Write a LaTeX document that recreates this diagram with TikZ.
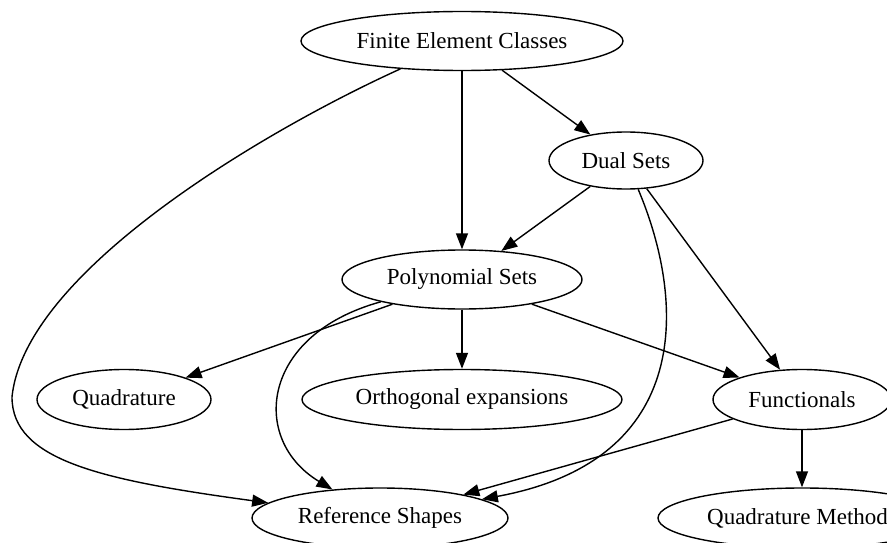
\documentclass[tikz,border=0pt]{standalone}
\usepackage{fontspec}
\setmainfont{Liberation Serif}
\usetikzlibrary{shapes.geometric,arrows.meta}
\begin{document}
\begin{tikzpicture}[x=1pt,y=-1pt,
  nd/.style={draw, ellipse, line width=1.4pt, inner sep=0pt, minimum height=59pt,
    font=\fontsize{23}{27}\selectfont},
  edge/.style={line width=1.4pt, -{Triangle[length=16pt,width=12pt]}}]
\clip (0,0) rectangle (887,543);
\node[nd, minimum width=322pt] (fec) at (462,41) {Finite Element Classes};
\node[nd, minimum width=154pt, minimum height=57pt] (ds) at (626,160.5) {Dual Sets};
\node[nd, minimum width=240pt] (ps) at (462,279.5) {Polynomial Sets};
\node[nd, minimum width=174pt, minimum height=60pt] (quad) at (124,399.5) {Quadrature};
\node[nd, minimum width=320pt, minimum height=60pt] (orth) at (462,399.5) {Orthogonal expansions};
\node[nd, minimum width=178pt, minimum height=60pt] (func) at (802,399.5) {Functionals};
\node[nd, minimum width=256pt, minimum height=60pt] (ref) at (380,518) {Reference Shapes};
\node[nd, minimum width=288pt, minimum height=60pt] (qm) at (802,518) {Quadrature Methods};

\draw[edge] (fec) -- (ds);
\draw[edge] (fec) -- (ps);
\draw[edge] (fec) .. controls (270,128) and (25,270) .. (12,397)
                  .. controls (12,460) and (100,480) .. (ref);
\draw[edge] (ds) -- (ps);
\draw[edge] (ds) -- (func);
\draw[edge] (ds) .. controls (685,300) and (695,460) .. (ref);
\draw[edge] (ps) -- (quad);
\draw[edge] (ps) -- (orth);
\draw[edge] (ps) -- (func);
\draw[edge] (ps) .. controls (260,335) and (250,440) .. (ref);
\draw[edge] (func) -- (ref);
\draw[edge] (func) -- (qm);
\end{tikzpicture}
\end{document}
